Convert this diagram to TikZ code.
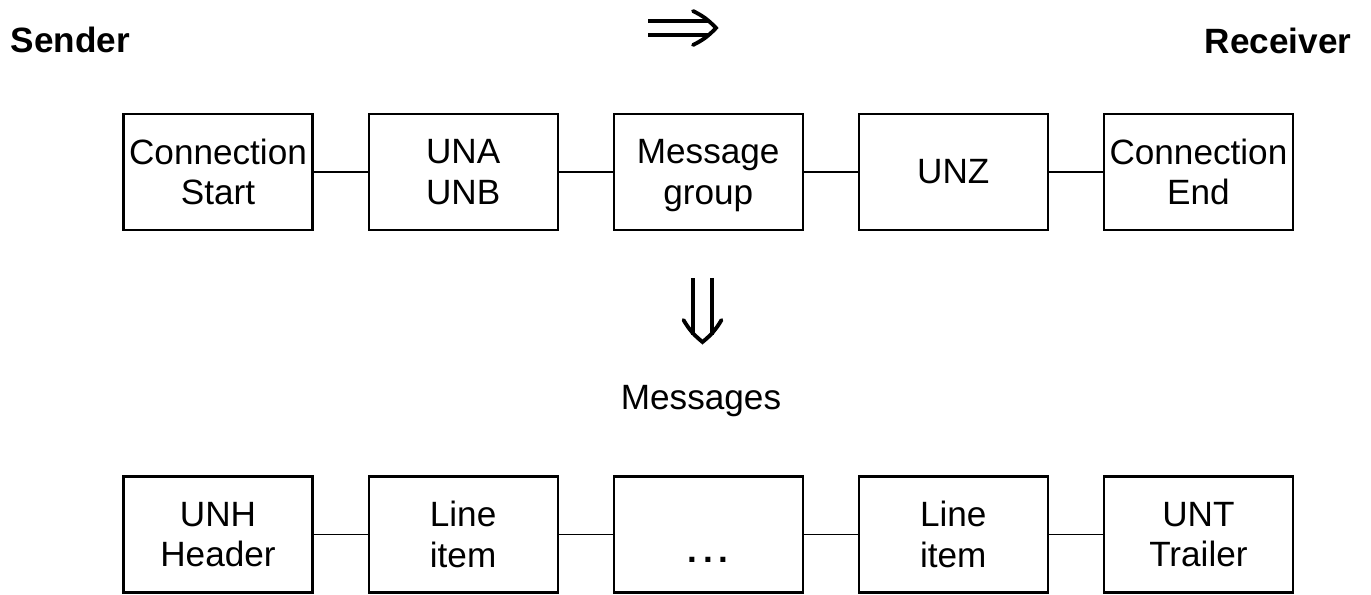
\documentclass[tikz,border=0pt]{standalone}
\usepackage{fontspec}
\setmainfont{Liberation Sans}
\usetikzlibrary{positioning}

\tikzset{
  block/.style={draw, line width=0.6pt, minimum width=1.89cm, minimum height=1.16cm,
    inner sep=0.5pt, align=center, font=\fontsize{10}{11.5}\selectfont},
  link/.style={line width=0.5pt},
  bigarrow/.style={double, double distance=#1, line width=1.1pt, shorten >=0.7mm},
  arrowhead/.style={line width=1.1pt, line join=miter, line cap=round},
  label/.style={inner sep=0pt, font=\fontsize{10}{12}\selectfont},
  title/.style={label, font=\fontsize{10}{12}\selectfont\bfseries},
}

\begin{document}
\begin{tikzpicture}[node distance=0.54cm]
        \useasboundingbox (0,0) rectangle (13.71,5.95);

        \coordinate (S) at (0.10,5.55);
        \coordinate (R) at (13.52,5.54);
        \node[title, anchor=west] (sender) at (S) {Sender};
        \node[title, anchor=east] (receiver) at (R) {Receiver};

        % arrow to the right
        \coordinate (Ta) at (6.48,5.67);
        \coordinate (Tb) at (7.16,5.67);
        \draw[bigarrow=3.1pt] (Ta) -- (Tb);
        \draw[arrowhead] ([shift={(-0.23,0.17)}]Tb) to[bend left=10] (Tb)
            to[bend left=10] ([shift={(-0.23,-0.17)}]Tb);

        \node[block] (start) at (2.18,4.23) {Connection\\Start};
        \node[block, right=of start] (una) {UNA\\UNB};
        \node[block, right=of una] (group) {Message\\\smash{group}};
        \node[block, right=of group] (unz) {UNZ};
        \node[block, right=of unz] (end) {Connection\\End};
        \foreach \a/\b in {start/una, una/group, group/unz, unz/end}
            \draw[link] (\a) -- (\b);

        % arrow down
        \coordinate (Da) at (7.025,3.17);
        \coordinate (Db) at (7.025,2.53);
        \draw[bigarrow=4.2pt] (Da) -- (Db);
        \draw[arrowhead] ([shift={(-0.19,0.22)}]Db) to[bend right=10] (Db)
            to[bend right=10] ([shift={(0.19,0.22)}]Db);
        \node[label, anchor=base] (msgs) at (7.01,1.85) {Messages};

        \node[block] (unh) at (2.18,0.605) {UNH\\Header};
        \node[block, right=of unh] (itemA) {Line\\item};
        \node[block, right=of itemA] (dots) {\rule{0pt}{16pt}\textbf{.\,.\,.}};
        \node[block, right=of dots] (itemB) {Line\\item};
        \node[block, right=of itemB] (unt) {UNT\\Trailer};
        \foreach \a/\b in {unh/itemA, itemA/dots, dots/itemB, itemB/unt}
            \draw[link] (\a) -- (\b);

    \end{tikzpicture}
\end{document}
